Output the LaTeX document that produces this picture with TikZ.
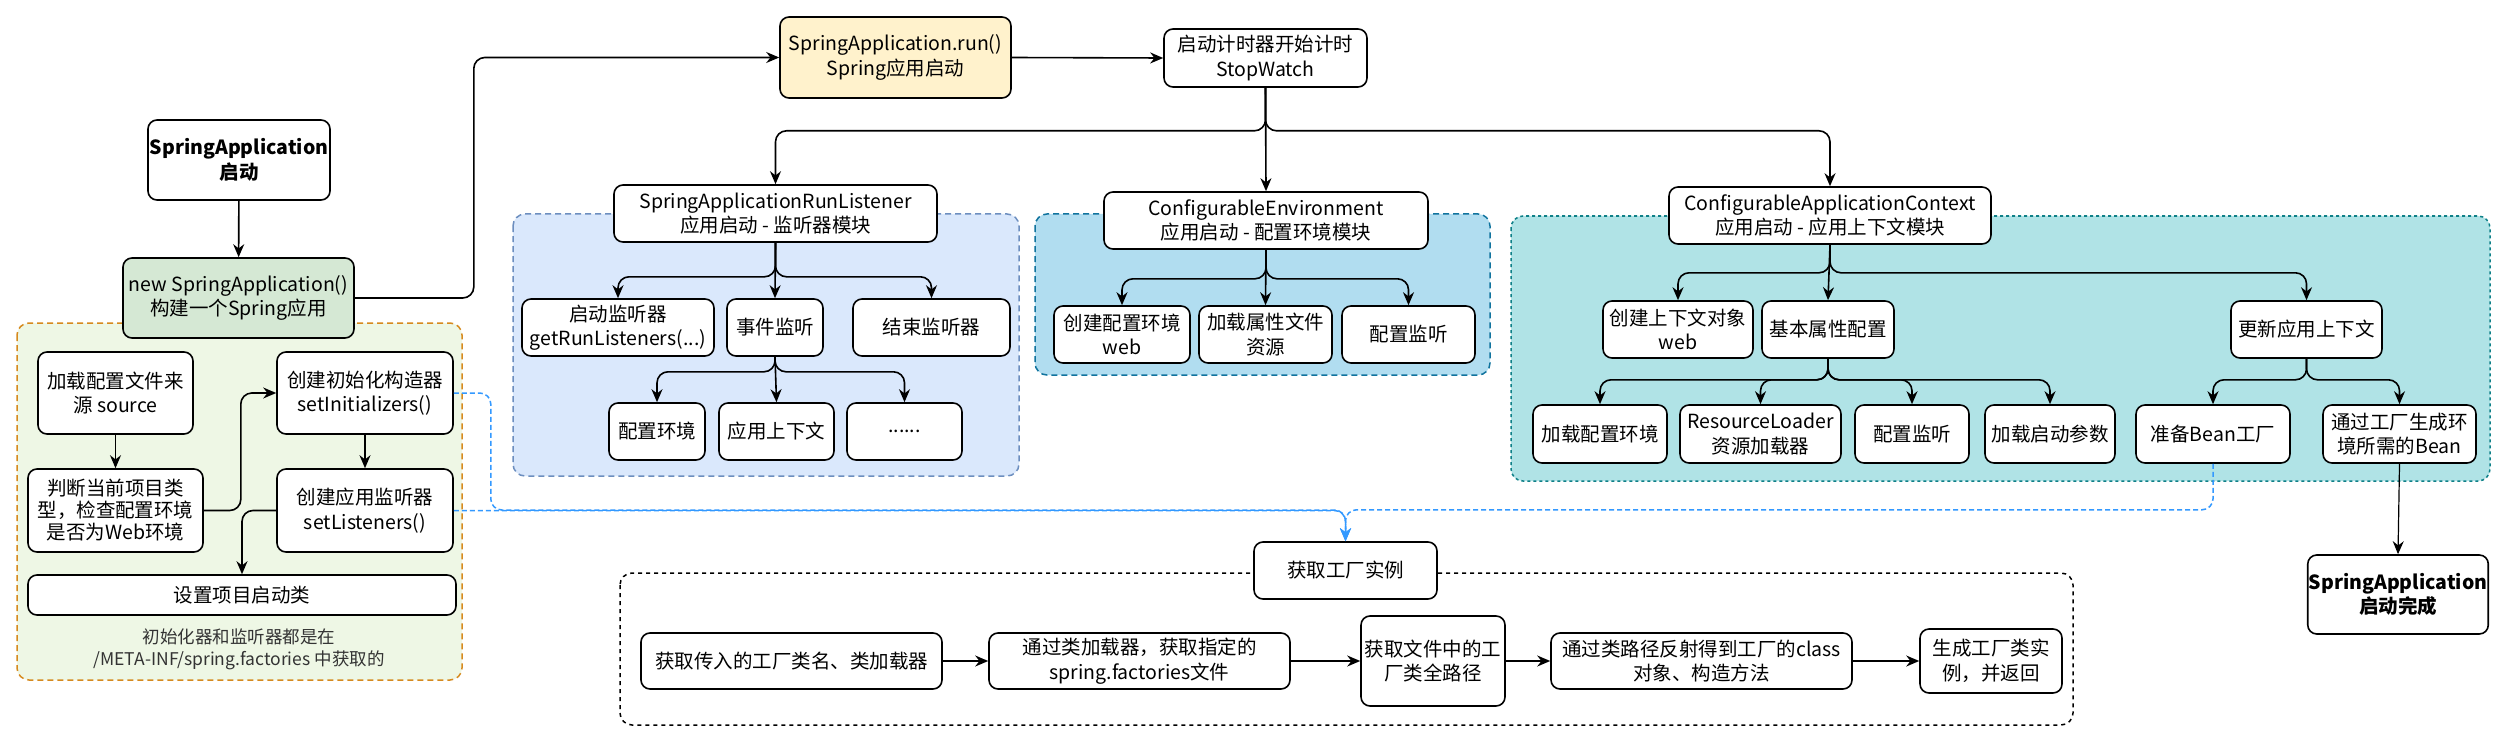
\documentclass[tikz,border=0pt]{standalone}
\usepackage{fontspec}
\setmainfont{Noto Sans CJK SC}
\usetikzlibrary{arrows.meta}
\definecolor{runyellow}{HTML}{FFF2CC}
\definecolor{nsagreen}{HTML}{D5E8D4}
\definecolor{grnbg}{HTML}{EEF7E5}
\definecolor{grnbd}{HTML}{D68A1E}
\definecolor{bluebg}{HTML}{DAE8FC}
\definecolor{bluebd}{HTML}{6C8EBF}
\definecolor{cebg}{HTML}{B1DDF0}
\definecolor{cebd}{HTML}{10739E}
\definecolor{cacbg}{HTML}{B0E3E6}
\definecolor{cacbd}{HTML}{0E8088}
\definecolor{linkblue}{HTML}{3399FF}
\definecolor{notegray}{HTML}{333333}
\newcommand\bx[7][]{\node[box,minimum width={(#5)-(#3)},minimum height={(#6)-(#4)},#1] (#2) at ({((#3)+(#5))/2},{((#4)+(#6))/2}) {#7};}
\begin{document}
\begin{tikzpicture}[x=1pt,y=-1pt,
  box/.style={draw=black, line width=1.6pt, rounded corners=9pt, fill=white, align=center, inner sep=1pt, font=\fontsize{19.5}{24.5}\selectfont},
  boldbox/.style={font=\bfseries\fontsize{19.5}{24.5}\selectfont},
  conn/.style={line width=1.6pt, rounded corners=11pt, -{Stealth[length=13pt,width=11pt]}},
  bconn/.style={draw=linkblue, line width=1.5pt, dash pattern=on 5pt off 3pt, rounded corners=11pt, -{Stealth[length=13pt,width=11pt]}},
  cont/.style={line width=1.5pt, rounded corners=12pt}
]
\fill[white] (0,0) rectangle (2502,746);
\useasboundingbox (0,0) rectangle (2502,746);

% containers
\draw[cont, draw=grnbd, fill=grnbg, dash pattern=on 6pt off 4pt] (17,323) rectangle (462,680);
\draw[cont, draw=bluebd, fill=bluebg, dash pattern=on 6pt off 4pt] (513,214) rectangle (1019,476);
\draw[cont, draw=cebd, fill=cebg, dash pattern=on 6pt off 4pt] (1035,214) rectangle (1490,375);
\draw[cont, draw=cacbd, fill=cacbg, dash pattern=on 3pt off 3pt] (1511,216) rectangle (2490,481);
\draw[cont, draw=black, dash pattern=on 4pt off 4pt] (620,573) rectangle (2073,725);

% nodes
\bx[boldbox]{sa}{148}{120}{330}{200}{SpringApplication\\启动}
\bx[fill=nsagreen]{nsa}{123}{258}{354}{338}{new SpringApplication()\\构建一个Spring应用}
\bx[fill=runyellow]{run}{780}{17}{1011}{98}{SpringApplication.run()\\Spring应用启动}
\bx{sw}{1164}{29}{1367}{87}{启动计时器开始计时\\StopWatch}

\bx{rl}{614}{185}{937}{242}{SpringApplicationRunListener\\应用启动 - 监听器模块}
\bx{l1}{522}{299}{714}{356}{启动监听器\\getRunListeners(...)}
\bx{l2}{727}{299}{823}{356}{事件监听}
\bx{l3}{853}{299}{1010}{356}{结束监听器}
\bx{e1}{609}{403}{705}{460}{配置环境}
\bx{e2}{719}{403}{834}{460}{应用上下文}
\bx{e3}{847}{403}{962}{460}{......}

\bx{ce}{1104}{192}{1428}{249}{ConfigurableEnvironment\\应用启动 - 配置环境模块}
\bx{c1}{1054}{306}{1190}{363}{创建配置环境\\web}
\bx{c2}{1199}{306}{1332}{363}{加载属性文件\\资源}
\bx{c3}{1342}{306}{1475}{363}{配置监听}

\bx{cac}{1669}{187}{1991}{244}{ConfigurableApplicationContext\\应用启动 - 应用上下文模块}
\bx{a1}{1603}{301}{1753}{358}{创建上下文对象\\web}
\bx{a2}{1762}{301}{1894}{358}{基本属性配置}
\bx{a3}{2231}{301}{2382}{358}{更新应用上下文}
\bx{b1}{1533}{405}{1667}{463}{加载配置环境}
\bx{b2}{1680}{405}{1841}{463}{ResourceLoader\\资源加载器}
\bx{b3}{1855}{405}{1969}{463}{配置监听}
\bx{b4}{1985}{405}{2115}{463}{加载启动参数}
\bx{u1}{2136}{405}{2290}{463}{准备Bean工厂}
\bx{u2}{2323}{405}{2476}{463}{通过工厂生成环\\境所需的Bean}
\bx[boldbox]{done}{2308}{555}{2488}{634}{SpringApplication\\启动完成}

\bx{g1}{38}{352}{193}{434}{加载配置文件来\\源 source}
\bx[font=\fontsize{19.5}{22}\selectfont]{g2}{28}{469}{203}{552}{判断当前项目类\\型，检查配置环境\\是否为Web环境}
\bx{g3}{277}{352}{453}{434}{创建初始化构造器\\setInitializers()}
\bx{g4}{277}{469}{453}{552}{创建应用监听器\\setListeners()}
\bx{g5}{28}{575}{456}{615}{设置项目启动类}
\node[font=\fontsize{17.5}{22}\selectfont, text=notegray, align=center] (note) at (239,649) {初始化器和监听器都是在\\/META-INF/spring.factories 中获取的};

\bx{gf}{1254}{542}{1437}{599}{获取工厂实例}
\bx{f1}{641}{633}{942}{689}{获取传入的工厂类名、类加载器}
\bx{f2}{989}{633}{1290}{689}{通过类加载器，获取指定的\\spring.factories文件}
\bx{f3}{1361}{616}{1505}{706}{获取文件中的工\\厂类全路径}
\bx{f4}{1551}{633}{1852}{689}{通过类路径反射得到工厂的class\\对象、构造方法}
\bx{f5}{1920}{629}{2062}{693}{生成工厂类实\\例，并返回}

% connectors
\draw[conn] (sa) -- (nsa);
\draw[conn] (nsa.east) -- ++(119,0) |- (run.west);
\draw[conn] (run.east) -- (sw.west);
\draw[conn] (sw.south) -- ++(0,43) -| (rl.north);
\draw[conn] (sw.south) -- (ce.north);
\draw[conn] (sw.south) -- ++(0,43) -| (cac.north);

\draw[conn] (rl.south) -- ++(0,34) -| (l1.north);
\draw[conn] (rl.south) -- (l2.north);
\draw[conn] (rl.south) -- ++(0,34) -| (l3.north);
\draw[conn] (l2.south) -- ++(0,15) -| (e1.north);
\draw[conn] (l2.south) -- (e2.north);
\draw[conn] (l2.south) -- ++(0,15) -| (e3.north);

\draw[conn] (ce.south) -- ++(0,29) -| (c1.north);
\draw[conn] (ce.south) -- (c2.north);
\draw[conn] (ce.south) -- ++(0,29) -| (c3.north);

\draw[conn] (cac.south) -- ++(0,28) -| (a1.north);
\draw[conn] (cac.south) -- (a2.north);
\draw[conn] (cac.south) -- ++(0,28) -| (a3.north);
\draw[conn] (a2.south) -- ++(0,21) -| (b1.north);
\draw[conn] (a2.south) -- ++(0,21) -| (b2.north);
\draw[conn] (a2.south) -- ++(0,21) -| (b3.north);
\draw[conn] (a2.south) -- ++(0,21) -| (b4.north);
\draw[conn] (a3.south) -- ++(0,21) -| (u1.north);
\draw[conn] (a3.south) -- ++(0,21) -| (u2.north);
\draw[conn, line width=1.2pt] (u2.south) -- (done.north);

\draw[conn] (g1) -- (g2);
\draw[conn] (g3) -- (g4);
\draw[conn] (g2.east) -- ++(37,0) |- (g3.west);
\draw[conn] (g4.west) -| (g5.north);

\draw[bconn] (g3.east) -- ++(37,0) -- ++(0,117) -| (gf.north);
\draw[bconn] (g4.east) -| (gf.north);
\draw[bconn] (u1.south) -- ++(0,46) -| (gf.north);

\draw[conn] (f1.east) -- (f2.west);
\draw[conn] (f2.east) -- (f3.west);
\draw[conn] (f3.east) -- (f4.west);
\draw[conn] (f4.east) -- (f5.west);
\end{tikzpicture}
\end{document}
